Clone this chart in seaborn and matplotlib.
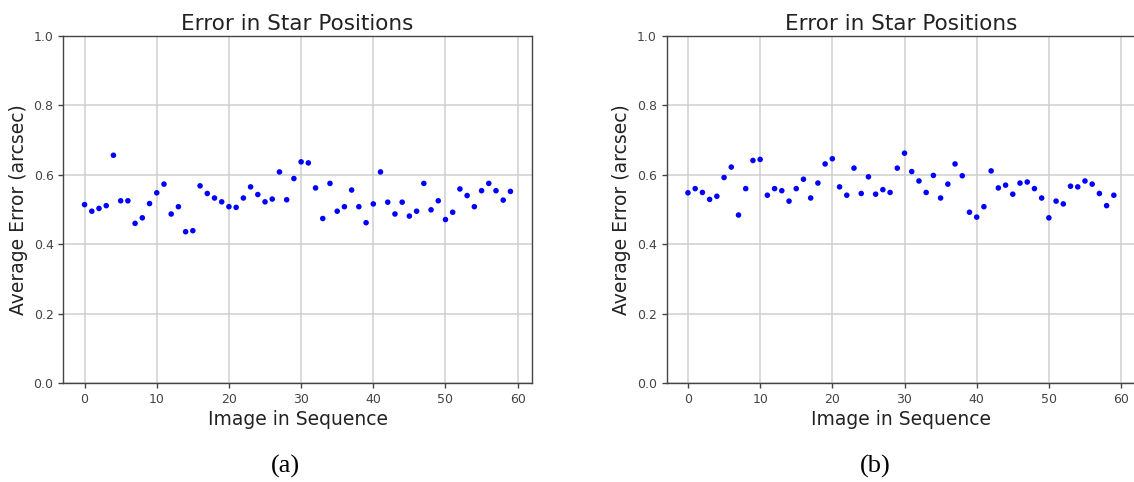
import numpy as np
import pandas as pd
import matplotlib
matplotlib.use("Agg")
import matplotlib.pyplot as plt
import seaborn as sns

# Average positional error per image, two runs
image_index = list(range(60))

error_a = [0.514, 0.495, 0.503, 0.511, 0.656, 0.525, 0.525, 0.460, 0.476, 0.517,
           0.548, 0.573, 0.487, 0.508, 0.436, 0.439, 0.568, 0.546, 0.533, 0.522,
           0.508, 0.506, 0.533, 0.565, 0.543, 0.522, 0.530, 0.608, 0.528, 0.589,
           0.637, 0.634, 0.562, 0.474, 0.575, 0.495, 0.508, 0.556, 0.508, 0.462,
           0.516, 0.608, 0.521, 0.487, 0.521, 0.481, 0.495, 0.575, 0.499, 0.525,
           0.471, 0.492, 0.559, 0.540, 0.508, 0.554, 0.575, 0.554, 0.527, 0.552]

error_b = [0.548, 0.560, 0.549, 0.529, 0.538, 0.592, 0.622, 0.484, 0.560, 0.641,
           0.644, 0.541, 0.560, 0.554, 0.524, 0.560, 0.587, 0.533, 0.576, 0.631,
           0.646, 0.565, 0.541, 0.619, 0.546, 0.594, 0.544, 0.557, 0.549, 0.619,
           0.662, 0.609, 0.582, 0.549, 0.598, 0.533, 0.573, 0.631, 0.597, 0.492,
           0.478, 0.508, 0.611, 0.562, 0.570, 0.544, 0.576, 0.579, 0.560, 0.533,
           0.476, 0.524, 0.516, 0.567, 0.565, 0.582, 0.573, 0.546, 0.511, 0.541]

panel_titles = ["Error in Star Positions", "Error in Star Positions"]
captions = ["(a)", "(b)"]
x_ticks = [0, 10, 20, 30, 40, 50, 60]
y_ticks = [0.0, 0.2, 0.4, 0.6, 0.8, 1.0]

sns.set_theme(style="ticks")
plt.rcParams["font.family"] = ["DejaVu Sans"]

fig = plt.figure(figsize=(11.34, 4.82), dpi=100)
axes_pos = [[0.0558, 0.2048, 0.4131, 0.7212],
            [0.5879, 0.2048, 0.4131, 0.7212]]
caption_x = [0.252, 0.772]

for pos, errs, title, cap, cx in zip(axes_pos, [error_a, error_b], panel_titles, captions, caption_x):
    ax = fig.add_axes(pos)
    df = pd.DataFrame({"image": image_index, "error": errs})
    sns.scatterplot(data=df, x="image", y="error", ax=ax, color="#0000ff",
                    s=16, linewidth=0, edgecolor="none", zorder=3)
    ax.set_xlim(-2.95, 61.95)
    ax.set_ylim(0, 1.0)
    ax.set_xticks(x_ticks)
    ax.set_yticks(y_ticks)
    ax.set_yticklabels([f"{v:.1f}" for v in y_ticks])
    ax.grid(True, color="#cfcfcf", linewidth=1.1, zorder=0)
    ax.set_axisbelow(True)
    for side in ["left", "right", "top", "bottom"]:
        ax.spines[side].set_visible(True)
        ax.spines[side].set_color("#444444")
        ax.spines[side].set_linewidth(1.0)
    ax.tick_params(axis="both", labelsize=9, colors="#444444", length=3.5, width=1.0)
    ax.set_title(title, fontsize=15.5, pad=4, color="#222222")
    ax.set_xlabel("Image in Sequence", fontsize=13.5, color="#222222", labelpad=3)
    ax.set_ylabel("Average Error (arcsec)", fontsize=13.5, color="#222222", labelpad=4)
    fig.text(cx, 0.033, cap, fontsize=19, family="Liberation Serif",
             ha="center", va="center", color="black")

fig.savefig("out.png", dpi=100)
